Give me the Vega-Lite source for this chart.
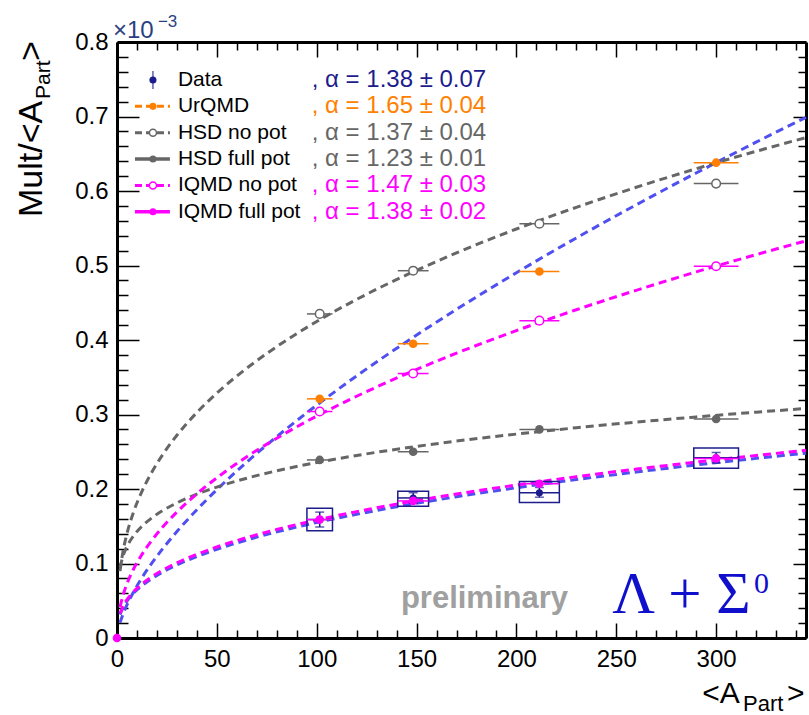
{
  "$schema": "https://vega.github.io/schema/vega-lite/v6.json",
  "width": 689,
  "height": 596,
  "autosize": {"type": "none"},
  "padding": {"left": 117, "top": 42, "right": 3, "bottom": 77},
  "background": "white",
  "config": {"view": {"stroke": null}, "font": "Liberation Sans"},
  "datasets": {
    "curves": [
      {"series":"Data fit","x":1.5,"y":0.0314},{"series":"Data fit","x":3,"y":0.0409},{"series":"Data fit","x":5,"y":0.0496},{"series":"Data fit","x":8,"y":0.0593},{"series":"Data fit","x":12,"y":0.0692},{"series":"Data fit","x":17,"y":0.0790},{"series":"Data fit","x":23,"y":0.0887},{"series":"Data fit","x":30,"y":0.0981},{"series":"Data fit","x":40,"y":0.1094},{"series":"Data fit","x":50,"y":0.1191},{"series":"Data fit","x":65,"y":0.1316},{"series":"Data fit","x":80,"y":0.1424},{"series":"Data fit","x":100,"y":0.1550},{"series":"Data fit","x":120,"y":0.1661},{"series":"Data fit","x":145,"y":0.1785},{"series":"Data fit","x":170,"y":0.1896},{"series":"Data fit","x":200,"y":0.2017},{"series":"Data fit","x":230,"y":0.2127},{"series":"Data fit","x":260,"y":0.2228},{"series":"Data fit","x":290,"y":0.2323},{"series":"Data fit","x":320,"y":0.2411},{"series":"Data fit","x":345,"y":0.2481},
      {"series":"UrQMD fit","x":1.5,"y":0.0204},{"series":"UrQMD fit","x":3,"y":0.0320},{"series":"UrQMD fit","x":5,"y":0.0446},{"series":"UrQMD fit","x":8,"y":0.0605},{"series":"UrQMD fit","x":12,"y":0.0788},{"series":"UrQMD fit","x":17,"y":0.0988},{"series":"UrQMD fit","x":23,"y":0.1202},{"series":"UrQMD fit","x":30,"y":0.1429},{"series":"UrQMD fit","x":40,"y":0.1722},{"series":"UrQMD fit","x":50,"y":0.1991},{"series":"UrQMD fit","x":65,"y":0.2362},{"series":"UrQMD fit","x":80,"y":0.2703},{"series":"UrQMD fit","x":100,"y":0.3125},{"series":"UrQMD fit","x":120,"y":0.3518},{"series":"UrQMD fit","x":145,"y":0.3978},{"series":"UrQMD fit","x":170,"y":0.4411},{"series":"UrQMD fit","x":200,"y":0.4903},{"series":"UrQMD fit","x":230,"y":0.5370},{"series":"UrQMD fit","x":260,"y":0.5815},{"series":"UrQMD fit","x":290,"y":0.6242},{"series":"UrQMD fit","x":320,"y":0.6655},{"series":"UrQMD fit","x":345,"y":0.6989},
      {"series":"HSD no pot","x":1.5,"y":0.0898},{"series":"HSD no pot","x":3,"y":0.1161},{"series":"HSD no pot","x":5,"y":0.1402},{"series":"HSD no pot","x":8,"y":0.1669},{"series":"HSD no pot","x":12,"y":0.1939},{"series":"HSD no pot","x":17,"y":0.2205},{"series":"HSD no pot","x":23,"y":0.2466},{"series":"HSD no pot","x":30,"y":0.2721},{"series":"HSD no pot","x":40,"y":0.3027},{"series":"HSD no pot","x":50,"y":0.3287},{"series":"HSD no pot","x":65,"y":0.3622},{"series":"HSD no pot","x":80,"y":0.3911},{"series":"HSD no pot","x":100,"y":0.4248},{"series":"HSD no pot","x":120,"y":0.4545},{"series":"HSD no pot","x":145,"y":0.4874},{"series":"HSD no pot","x":170,"y":0.5169},{"series":"HSD no pot","x":200,"y":0.5490},{"series":"HSD no pot","x":230,"y":0.5781},{"series":"HSD no pot","x":260,"y":0.6050},{"series":"HSD no pot","x":290,"y":0.6299},{"series":"HSD no pot","x":320,"y":0.6533},{"series":"HSD no pot","x":345,"y":0.6717},
      {"series":"HSD full pot","x":1.5,"y":0.0947},{"series":"HSD full pot","x":3,"y":0.1100},{"series":"HSD full pot","x":5,"y":0.1229},{"series":"HSD full pot","x":8,"y":0.1361},{"series":"HSD full pot","x":12,"y":0.1487},{"series":"HSD full pot","x":17,"y":0.1603},{"series":"HSD full pot","x":23,"y":0.1712},{"series":"HSD full pot","x":30,"y":0.1814},{"series":"HSD full pot","x":40,"y":0.1931},{"series":"HSD full pot","x":50,"y":0.2026},{"series":"HSD full pot","x":65,"y":0.2145},{"series":"HSD full pot","x":80,"y":0.2244},{"series":"HSD full pot","x":100,"y":0.2355},{"series":"HSD full pot","x":120,"y":0.2450},{"series":"HSD full pot","x":145,"y":0.2553},{"series":"HSD full pot","x":170,"y":0.2643},{"series":"HSD full pot","x":200,"y":0.2737},{"series":"HSD full pot","x":230,"y":0.2822},{"series":"HSD full pot","x":260,"y":0.2898},{"series":"HSD full pot","x":290,"y":0.2967},{"series":"HSD full pot","x":320,"y":0.3031},{"series":"HSD full pot","x":345,"y":0.3081},
      {"series":"IQMD no pot","x":1.5,"y":0.0414},{"series":"IQMD no pot","x":3,"y":0.0573},{"series":"IQMD no pot","x":5,"y":0.0729},{"series":"IQMD no pot","x":8,"y":0.0909},{"series":"IQMD no pot","x":12,"y":0.1100},{"series":"IQMD no pot","x":17,"y":0.1295},{"series":"IQMD no pot","x":23,"y":0.1493},{"series":"IQMD no pot","x":30,"y":0.1691},{"series":"IQMD no pot","x":40,"y":0.1936},{"series":"IQMD no pot","x":50,"y":0.2150},{"series":"IQMD no pot","x":65,"y":0.2433},{"series":"IQMD no pot","x":80,"y":0.2682},{"series":"IQMD no pot","x":100,"y":0.2979},{"series":"IQMD no pot","x":120,"y":0.3245},{"series":"IQMD no pot","x":145,"y":0.3547},{"series":"IQMD no pot","x":170,"y":0.3823},{"series":"IQMD no pot","x":200,"y":0.4126},{"series":"IQMD no pot","x":230,"y":0.4406},{"series":"IQMD no pot","x":260,"y":0.4667},{"series":"IQMD no pot","x":290,"y":0.4914},{"series":"IQMD no pot","x":320,"y":0.5146},{"series":"IQMD no pot","x":345,"y":0.5331},
      {"series":"IQMD full pot","x":1.5,"y":0.0328},{"series":"IQMD full pot","x":3,"y":0.0425},{"series":"IQMD full pot","x":5,"y":0.0515},{"series":"IQMD full pot","x":8,"y":0.0614},{"series":"IQMD full pot","x":12,"y":0.0715},{"series":"IQMD full pot","x":17,"y":0.0815},{"series":"IQMD full pot","x":23,"y":0.0913},{"series":"IQMD full pot","x":30,"y":0.1009},{"series":"IQMD full pot","x":40,"y":0.1123},{"series":"IQMD full pot","x":50,"y":0.1222},{"series":"IQMD full pot","x":65,"y":0.1348},{"series":"IQMD full pot","x":80,"y":0.1457},{"series":"IQMD full pot","x":100,"y":0.1584},{"series":"IQMD full pot","x":120,"y":0.1696},{"series":"IQMD full pot","x":145,"y":0.1821},{"series":"IQMD full pot","x":170,"y":0.1933},{"series":"IQMD full pot","x":200,"y":0.2054},{"series":"IQMD full pot","x":230,"y":0.2165},{"series":"IQMD full pot","x":260,"y":0.2267},{"series":"IQMD full pot","x":290,"y":0.2361},{"series":"IQMD full pot","x":320,"y":0.2450},{"series":"IQMD full pot","x":345,"y":0.2520}
    ],
    "points": [
      {"series":"Data","x":101.5,"y":0.159,"xlo":95.1,"xhi":107.9,"ylo":0.149,"yhi":0.169,"slo":0.144,"shi":0.174},
      {"series":"Data","x":148.3,"y":0.188,"xlo":140.6,"xhi":156,"ylo":0.181,"yhi":0.195,"slo":0.177,"shi":0.197},
      {"series":"Data","x":211.5,"y":0.195,"xlo":201.5,"xhi":221.5,"ylo":0.189,"yhi":0.202,"slo":0.182,"shi":0.210},
      {"series":"Data","x":300,"y":0.242,"xlo":288.8,"xhi":311.2,"ylo":0.235,"yhi":0.249,"slo":0.228,"shi":0.255},
      {"series":"UrQMD","x":101.5,"y":0.321,"xlo":95.1,"xhi":107.9},
      {"series":"UrQMD","x":148.3,"y":0.395,"xlo":140.6,"xhi":156},
      {"series":"UrQMD","x":211.5,"y":0.492,"xlo":201.5,"xhi":221.5},
      {"series":"UrQMD","x":300,"y":0.638,"xlo":288.8,"xhi":311.2},
      {"series":"HSD no pot","x":101.5,"y":0.435,"xlo":95.1,"xhi":107.9},
      {"series":"HSD no pot","x":148.3,"y":0.493,"xlo":140.6,"xhi":156},
      {"series":"HSD no pot","x":211.5,"y":0.556,"xlo":201.5,"xhi":221.5},
      {"series":"HSD no pot","x":300,"y":0.610,"xlo":288.8,"xhi":311.2},
      {"series":"HSD full pot","x":101.5,"y":0.239,"xlo":95.1,"xhi":107.9},
      {"series":"HSD full pot","x":148.3,"y":0.250,"xlo":140.6,"xhi":156},
      {"series":"HSD full pot","x":211.5,"y":0.280,"xlo":201.5,"xhi":221.5},
      {"series":"HSD full pot","x":300,"y":0.294,"xlo":288.8,"xhi":311.2},
      {"series":"IQMD no pot","x":101.5,"y":0.304,"xlo":95.1,"xhi":107.9},
      {"series":"IQMD no pot","x":148.3,"y":0.355,"xlo":140.6,"xhi":156},
      {"series":"IQMD no pot","x":211.5,"y":0.426,"xlo":201.5,"xhi":221.5},
      {"series":"IQMD no pot","x":300,"y":0.499,"xlo":288.8,"xhi":311.2},
      {"series":"IQMD full pot","x":0,"y":0},
      {"series":"IQMD full pot","x":101.5,"y":0.159,"xlo":95.1,"xhi":107.9},
      {"series":"IQMD full pot","x":148.3,"y":0.184,"xlo":140.6,"xhi":156},
      {"series":"IQMD full pot","x":211.5,"y":0.207,"xlo":201.5,"xhi":221.5},
      {"series":"IQMD full pot","x":300,"y":0.241,"xlo":288.8,"xhi":311.2}
    ],
    "legend": [
      {"series":"Data","order":1,"label":"Data","alpha":", α = 1.38 ± 0.07"},
      {"series":"UrQMD","order":2,"label":"UrQMD","alpha":", α = 1.65 ± 0.04"},
      {"series":"HSD no pot","order":3,"label":"HSD no pot","alpha":", α = 1.37 ± 0.04"},
      {"series":"HSD full pot","order":4,"label":"HSD full pot","alpha":", α = 1.23 ± 0.01"},
      {"series":"IQMD no pot","order":5,"label":"IQMD no pot","alpha":", α = 1.47 ± 0.03"},
      {"series":"IQMD full pot","order":6,"label":"IQMD full pot","alpha":", α = 1.38 ± 0.02"}
    ]
  },
  "layer": [
    {
      "layer": [
        {
          "data": {"name": "curves"},
          "mark": {"type": "line", "strokeWidth": 3, "strokeDash": [8, 5], "interpolate": "monotone"},
          "encoding": {
            "x": {"field": "x", "type": "quantitative", "scale": {"domain": [0, 345], "nice": false, "zero": false},
              "axis": {"orient": "bottom", "title": null, "tickCount": 200, "values": [0,10,20,30,40,50,60,70,80,90,100,110,120,130,140,150,160,170,180,190,200,210,220,230,240,250,260,270,280,290,300,310,320,330,340],
                "labelExpr": "datum.value % 50 === 0 ? datum.label : ''",
                "tickSize": {"condition": {"test": "datum.value % 50 === 0", "value": -15}, "value": -8},
                "tickWidth": 1.5, "tickColor": "black", "domainWidth": 3, "domainColor": "black",
                "labelPadding": 24, "labelFont": "Liberation Sans", "labelFontSize": 24, "labelColor": "black",
                "labelOverlap": false, "labelFlush": false, "labelBound": false, "grid": false}},
            "y": {"field": "y", "type": "quantitative", "scale": {"domain": [0, 0.8], "nice": false, "zero": false},
              "axis": {"orient": "left", "title": null, "tickCount": 200, "values": [0,0.02,0.04,0.06,0.08,0.1,0.12,0.14,0.16,0.18,0.2,0.22,0.24,0.26,0.28,0.3,0.32,0.34,0.36,0.38,0.4,0.42,0.44,0.46,0.48,0.5,0.52,0.54,0.56,0.58,0.6,0.62,0.64,0.66,0.68,0.7,0.72,0.74,0.76,0.78,0.8],
                "labelExpr": "abs(datum.value*10 - round(datum.value*10)) < 0.001 ? (datum.value == 0 ? '0' : format(datum.value, '.1f')) : ''",
                "tickSize": {"condition": {"test": "abs(datum.value*10 - round(datum.value*10)) < 0.001", "value": -22}, "value": -11},
                "tickWidth": 1.5, "tickColor": "black", "domainWidth": 3, "domainColor": "black",
                "labelPadding": 31, "labelFont": "Liberation Sans", "labelFontSize": 24, "labelColor": "black",
                "labelOverlap": false, "labelFlush": false, "labelBound": false, "grid": false}},
            "color": {"field": "series", "type": "nominal", "legend": null, "scale": {"domain": ["Data","UrQMD","HSD no pot","HSD full pot","IQMD no pot","IQMD full pot","Data fit","UrQMD fit"], "range": ["#1c1c8c","#ff7f00","#666666","#666666","#ff00ff","#ff00ff","#5050f0","#5050f0"]}}
          }
        },
        {
          "data": {"name": "points"},
          "transform": [{"filter": "datum.series === 'Data'"}],
          "mark": {"type": "rect", "filled": false, "strokeWidth": 1.5},
          "encoding": {
            "x": {"field": "xlo", "type": "quantitative", "scale": {"domain": [0, 345], "nice": false, "zero": false}},
            "x2": {"field": "xhi"},
            "y": {"field": "slo", "type": "quantitative", "scale": {"domain": [0, 0.8], "nice": false, "zero": false}},
            "y2": {"field": "shi"},
            "color": {"field": "series", "type": "nominal", "legend": null, "scale": {"domain": ["Data","UrQMD","HSD no pot","HSD full pot","IQMD no pot","IQMD full pot","Data fit","UrQMD fit"], "range": ["#1c1c8c","#ff7f00","#666666","#666666","#ff00ff","#ff00ff","#5050f0","#5050f0"]}}
          }
        },
        {
          "data": {"name": "points"},
          "transform": [{"filter": "isValid(datum.xlo)"}],
          "mark": {"type": "rule", "strokeWidth": 1.5},
          "encoding": {
            "x": {"field": "xlo", "type": "quantitative"},
            "x2": {"field": "xhi"},
            "y": {"field": "y", "type": "quantitative"},
            "color": {"field": "series", "type": "nominal", "legend": null, "scale": {"domain": ["Data","UrQMD","HSD no pot","HSD full pot","IQMD no pot","IQMD full pot","Data fit","UrQMD fit"], "range": ["#1c1c8c","#ff7f00","#666666","#666666","#ff00ff","#ff00ff","#5050f0","#5050f0"]}}
          }
        },
        {
          "data": {"name": "points"},
          "transform": [{"filter": "datum.series === 'Data'"}],
          "mark": {"type": "rule", "strokeWidth": 1.5, "color": "#1c1c8c"},
          "encoding": {
            "x": {"field": "x", "type": "quantitative"},
            "y": {"field": "ylo", "type": "quantitative"},
            "y2": {"field": "yhi"}
          }
        },
        {
          "data": {"name": "points"},
          "transform": [{"filter": "datum.series === 'Data'"}],
          "mark": {"type": "tick", "orient": "horizontal", "size": 9, "thickness": 1.5, "color": "#1c1c8c"},
          "encoding": {
            "x": {"field": "x", "type": "quantitative"},
            "y": {"field": "ylo", "type": "quantitative"}
          }
        },
        {
          "data": {"name": "points"},
          "transform": [{"filter": "datum.series === 'Data'"}],
          "mark": {"type": "tick", "orient": "horizontal", "size": 9, "thickness": 1.5, "color": "#1c1c8c"},
          "encoding": {
            "x": {"field": "x", "type": "quantitative"},
            "y": {"field": "yhi", "type": "quantitative"}
          }
        },
        {
          "data": {"name": "points"},
          "transform": [{"filter": "datum.series === 'Data'"}],
          "mark": {"type": "point", "shape": "circle", "filled": true, "opacity": 1, "size": 50},
          "encoding": {
            "x": {"field": "x", "type": "quantitative"},
            "y": {"field": "y", "type": "quantitative"},
            "color": {"field": "series", "type": "nominal", "legend": null, "scale": {"domain": ["Data","UrQMD","HSD no pot","HSD full pot","IQMD no pot","IQMD full pot","Data fit","UrQMD fit"], "range": ["#1c1c8c","#ff7f00","#666666","#666666","#ff00ff","#ff00ff","#5050f0","#5050f0"]}}
          }
        },
        {
          "data": {"name": "points"},
          "transform": [{"filter": "indexof(['UrQMD','HSD full pot','IQMD full pot'], datum.series) >= 0"}],
          "mark": {"type": "point", "shape": "circle", "filled": true, "opacity": 1, "size": 75},
          "encoding": {
            "x": {"field": "x", "type": "quantitative"},
            "y": {"field": "y", "type": "quantitative"},
            "color": {"field": "series", "type": "nominal", "legend": null, "scale": {"domain": ["Data","UrQMD","HSD no pot","HSD full pot","IQMD no pot","IQMD full pot","Data fit","UrQMD fit"], "range": ["#1c1c8c","#ff7f00","#666666","#666666","#ff00ff","#ff00ff","#5050f0","#5050f0"]}}
          }
        },
        {
          "data": {"name": "points"},
          "transform": [{"filter": "indexof(['HSD no pot','IQMD no pot'], datum.series) >= 0"}],
          "mark": {"type": "point", "shape": "circle", "filled": false, "fill": "white", "fillOpacity": 1, "opacity": 1, "strokeWidth": 1.5, "size": 75},
          "encoding": {
            "x": {"field": "x", "type": "quantitative"},
            "y": {"field": "y", "type": "quantitative"},
            "color": {"field": "series", "type": "nominal", "legend": null, "scale": {"domain": ["Data","UrQMD","HSD no pot","HSD full pot","IQMD no pot","IQMD full pot","Data fit","UrQMD fit"], "range": ["#1c1c8c","#ff7f00","#666666","#666666","#ff00ff","#ff00ff","#5050f0","#5050f0"]}}
          }
        },
        {
          "data": {"values": [{}]},
          "mark": {"type": "text", "text": "preliminary", "font": "Liberation Sans", "fontWeight": "bold", "fontSize": 31, "color": "#a0a0a0", "align": "center", "baseline": "alphabetic"},
          "encoding": {"x": {"datum": 184}, "y": {"datum": 0.0403}}
        },
        {
          "data": {"values": [{}]},
          "mark": {"type": "text", "text": "Λ + Σ", "font": "Liberation Serif", "fontSize": 59, "color": "#1010cc", "align": "left", "baseline": "alphabetic"},
          "encoding": {"x": {"datum": 248}, "y": {"datum": 0.0336}}
        },
        {
          "data": {"values": [{}]},
          "mark": {"type": "text", "text": "0", "font": "Liberation Serif", "fontSize": 30, "color": "#1010cc", "align": "left", "baseline": "alphabetic"},
          "encoding": {"x": {"datum": 319}, "y": {"datum": 0.0604}}
        },
        {
          "data": {"values": [{}]},
          "mark": {"type": "text", "text": "×10", "font": "Liberation Sans", "fontSize": 24, "color": "#2b3f7f", "align": "left", "baseline": "alphabetic"},
          "encoding": {"x": {"datum": -2}, "y": {"datum": 0.805}}
        },
        {
          "data": {"values": [{}]},
          "mark": {"type": "text", "text": "−3", "font": "Liberation Sans", "fontSize": 17, "color": "#2b3f7f", "align": "left", "baseline": "alphabetic"},
          "encoding": {"x": {"datum": 20.5}, "y": {"datum": 0.82}}
        },
        {
          "data": {"values": [{}]},
          "mark": {"type": "text", "text": "Mult/<A", "font": "Liberation Sans", "fontSize": 34, "color": "black", "align": "left", "baseline": "alphabetic", "angle": 270},
          "encoding": {"x": {"datum": -37.5}, "y": {"datum": 0.5651}}
        },
        {
          "data": {"values": [{}]},
          "mark": {"type": "text", "text": "Part", "font": "Liberation Sans", "fontSize": 21, "color": "black", "align": "left", "baseline": "alphabetic", "angle": 270},
          "encoding": {"x": {"datum": -33.5}, "y": {"datum": 0.7235}}
        },
        {
          "data": {"values": [{}]},
          "mark": {"type": "text", "text": ">", "font": "Liberation Sans", "fontSize": 34, "color": "black", "align": "left", "baseline": "alphabetic", "angle": 270},
          "encoding": {"x": {"datum": -37.5}, "y": {"datum": 0.7745}}
        },
        {
          "data": {"values": [{}]},
          "mark": {"type": "text", "text": "<A", "font": "Liberation Sans", "fontSize": 30, "color": "black", "align": "left", "baseline": "alphabetic"},
          "encoding": {"x": {"datum": 293}, "y": {"datum": -0.0872}}
        },
        {
          "data": {"values": [{}]},
          "mark": {"type": "text", "text": "Part", "font": "Liberation Sans", "fontSize": 22, "color": "black", "align": "left", "baseline": "alphabetic"},
          "encoding": {"x": {"datum": 313.5}, "y": {"datum": -0.0985}}
        },
        {
          "data": {"values": [{}]},
          "mark": {"type": "text", "text": ">", "font": "Liberation Sans", "fontSize": 30, "color": "black", "align": "left", "baseline": "alphabetic"},
          "encoding": {"x": {"datum": 335.5}, "y": {"datum": -0.0872}}
        }
      ]
    },
    {
      "data": {"name": "points"},
      "mark": {"type": "point", "opacity": 0},
      "encoding": {
        "x": {"field": "x", "type": "quantitative", "scale": {"domain": [0, 345], "nice": false, "zero": false},
          "axis": {"orient": "top", "title": null, "labels": false, "tickCount": 200, "values": [0,10,20,30,40,50,60,70,80,90,100,110,120,130,140,150,160,170,180,190,200,210,220,230,240,250,260,270,280,290,300,310,320,330,340],
            "tickSize": {"condition": {"test": "datum.value % 50 === 0", "value": -15}, "value": -8},
            "tickWidth": 1.5, "tickColor": "black", "domainWidth": 3, "domainColor": "black", "grid": false}},
        "y": {"field": "y", "type": "quantitative", "scale": {"domain": [0, 0.8], "nice": false, "zero": false},
          "axis": {"orient": "right", "title": null, "labels": false, "tickCount": 200, "values": [0,0.02,0.04,0.06,0.08,0.1,0.12,0.14,0.16,0.18,0.2,0.22,0.24,0.26,0.28,0.3,0.32,0.34,0.36,0.38,0.4,0.42,0.44,0.46,0.48,0.5,0.52,0.54,0.56,0.58,0.6,0.62,0.64,0.66,0.68,0.7,0.72,0.74,0.76,0.78,0.8],
            "tickSize": {"condition": {"test": "abs(datum.value*10 - round(datum.value*10)) < 0.001", "value": -13}, "value": -8},
            "tickWidth": 1.5, "tickColor": "black", "domainWidth": 3, "domainColor": "black", "grid": false}}
      }
    },
    {
      "data": {"name": "legend"},
      "encoding": {
        "y": {"field": "order", "type": "quantitative", "scale": {"domain": [-0.442, 22.17], "reverse": true, "nice": false, "zero": false}, "axis": null}
      },
      "layer": [
        {
          "transform": [{"filter": "indexof(['UrQMD','HSD no pot','IQMD no pot'], datum.series) >= 0"}],
          "mark": {"type": "rule", "strokeWidth": 3, "strokeDash": [7, 4]},
          "encoding": {
            "x": {"datum": 9, "axis": null}, "x2": {"datum": 26.5},
            "color": {"field": "series", "type": "nominal", "legend": null, "scale": {"domain": ["Data","UrQMD","HSD no pot","HSD full pot","IQMD no pot","IQMD full pot","Data fit","UrQMD fit"], "range": ["#1c1c8c","#ff7f00","#666666","#666666","#ff00ff","#ff00ff","#5050f0","#5050f0"]}}
          }
        },
        {
          "transform": [{"filter": "indexof(['HSD full pot','IQMD full pot'], datum.series) >= 0"}],
          "mark": {"type": "rule", "strokeWidth": 3.5},
          "encoding": {
            "x": {"datum": 9, "axis": null}, "x2": {"datum": 26.5},
            "color": {"field": "series", "type": "nominal", "legend": null, "scale": {"domain": ["Data","UrQMD","HSD no pot","HSD full pot","IQMD no pot","IQMD full pot","Data fit","UrQMD fit"], "range": ["#1c1c8c","#ff7f00","#666666","#666666","#ff00ff","#ff00ff","#5050f0","#5050f0"]}}
          }
        },
        {
          "transform": [{"filter": "datum.series === 'Data'"}],
          "mark": {"type": "tick", "orient": "vertical", "size": 18, "thickness": 1.5, "color": "#1c1c8c"},
          "encoding": {"x": {"datum": 18, "axis": null}}
        },
        {
          "transform": [{"filter": "indexof(['Data','UrQMD','HSD full pot','IQMD full pot'], datum.series) >= 0"}],
          "mark": {"type": "point", "shape": "circle", "filled": true, "opacity": 1, "size": 50},
          "encoding": {
            "x": {"datum": 18, "axis": null},
            "color": {"field": "series", "type": "nominal", "legend": null, "scale": {"domain": ["Data","UrQMD","HSD no pot","HSD full pot","IQMD no pot","IQMD full pot","Data fit","UrQMD fit"], "range": ["#1c1c8c","#ff7f00","#666666","#666666","#ff00ff","#ff00ff","#5050f0","#5050f0"]}}
          }
        },
        {
          "transform": [{"filter": "indexof(['HSD no pot','IQMD no pot'], datum.series) >= 0"}],
          "mark": {"type": "point", "shape": "circle", "filled": false, "fill": "white", "fillOpacity": 1, "opacity": 1, "strokeWidth": 1.5, "size": 50},
          "encoding": {
            "x": {"datum": 18, "axis": null},
            "color": {"field": "series", "type": "nominal", "legend": null, "scale": {"domain": ["Data","UrQMD","HSD no pot","HSD full pot","IQMD no pot","IQMD full pot","Data fit","UrQMD fit"], "range": ["#1c1c8c","#ff7f00","#666666","#666666","#ff00ff","#ff00ff","#5050f0","#5050f0"]}}
          }
        },
        {
          "mark": {"type": "text", "font": "Liberation Sans", "fontSize": 21, "color": "black", "align": "left", "baseline": "middle"},
          "encoding": {"x": {"datum": 30.5, "axis": null}, "text": {"field": "label"}}
        },
        {
          "mark": {"type": "text", "font": "Liberation Sans", "fontSize": 24, "align": "left", "baseline": "middle"},
          "encoding": {
            "x": {"datum": 97.5, "axis": null},
            "text": {"field": "alpha"},
            "color": {"field": "series", "type": "nominal", "legend": null, "scale": {"domain": ["Data","UrQMD","HSD no pot","HSD full pot","IQMD no pot","IQMD full pot","Data fit","UrQMD fit"], "range": ["#1c1c8c","#ff7f00","#666666","#666666","#ff00ff","#ff00ff","#5050f0","#5050f0"]}}
          }
        }
      ]
    }
  ],
  "resolve": {"scale": {"y": "independent"}, "axis": {"x": "independent", "y": "independent"}}
}
